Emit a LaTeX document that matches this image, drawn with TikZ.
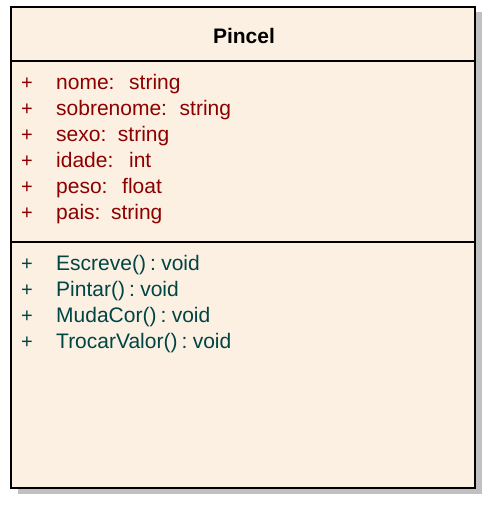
\documentclass[tikz,border=0pt]{standalone}
\usepackage{fontspec}
\setmainfont{Liberation Sans}
\usetikzlibrary{positioning}
\definecolor{classfill}{RGB}{251,240,226}
\definecolor{attrred}{RGB}{140,0,0}
\definecolor{opteal}{RGB}{0,68,68}
\definecolor{shadowgray}{RGB}{192,192,192}
\tikzset{
    member/.style={anchor=base west, inner sep=0pt, font=\fontsize{21}{24}\selectfont},
    vis/.style={anchor=base, inner sep=0pt, font=\fontsize{20}{24}\selectfont},
    classname/.style={anchor=base, inner sep=0pt, font=\fontsize{21}{24}\selectfont\bfseries}
}
\begin{document}
\begin{tikzpicture}[x=1pt,y=-1pt]
    \def \L {11}
    \def \R {475}
    \def \T {7}
    \def \B {488}
    \def \gap {26}
    \useasboundingbox (0,0) rectangle (502,506);
    \coordinate (nw) at (\L,\T);
    \coordinate (se) at (\R,\B);
    \coordinate (h1) at (\L,61);
    \coordinate (h2) at (\R,61);
    \coordinate (m1) at (\L,242);
    \coordinate (m2) at (\R,242);
    % shadow and box
    \fill[shadowgray] (\L+7,\T+5) rectangle (\R+7,\B+6);
    \draw[line width=2pt, fill=classfill] (nw) rectangle (se);
    \draw[line width=1.6pt] (h1) -- (h2);
    \draw[line width=1.6pt] (m1) -- (m2);
    \node[classname] (title) at (244,43.5) {Pincel};
    % attributes
    \foreach \n/\txt in {0/nome:\hspace{0.7em}string, 1/sobrenome:\hspace{0.6em}string,
        2/sexo:\hspace{0.55em}string, 3/idade:\hspace{0.75em}int,
        4/peso:\hspace{0.7em}float, 5/pais:\hspace{0.5em}string}{
        \node[vis, text=attrred] (vattr\n) at (27,89+\n*\gap) {+};
        \node[member, text=attrred] (attr\n) at (56,89+\n*\gap) {\txt};
    }
    % operations
    \foreach \n/\txt in {0/Escreve()\hspace{0.2em}:\hspace{0.25em}void, 1/Pintar()\hspace{0.2em}:\hspace{0.25em}void,
        2/MudaCor()\hspace{0.2em}:\hspace{0.25em}void, 3/TrocarValor()\hspace{0.2em}:\hspace{0.25em}void}{
        \node[vis, text=opteal] (vop\n) at (27,270+\n*\gap) {+};
        \node[member, text=opteal] (op\n) at (56,270+\n*\gap) {\txt};
    }
\end{tikzpicture}
\end{document}
